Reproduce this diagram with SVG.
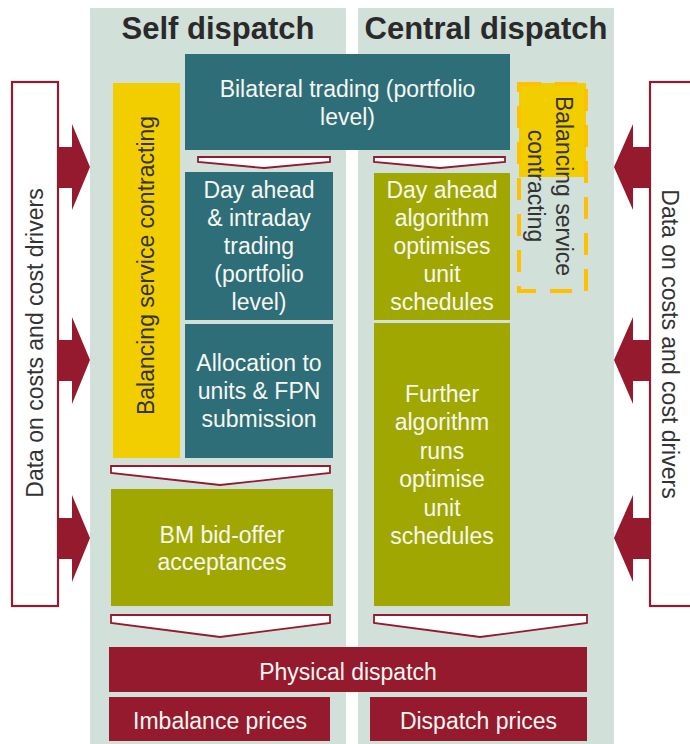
<svg xmlns="http://www.w3.org/2000/svg" width="690" height="744" viewBox="0 0 690 744">
<style>
.panel{fill:#D1E0D8}
.teal{fill:#2E6E78}
.olive{fill:#A0A700}
.red{fill:#951A2E}
.yel{fill:#F2CE00}
.wt{font-family:"Liberation Sans",Arial,sans-serif;font-size:23px;fill:#F7F7F2;text-anchor:middle}
.dt{font-family:"Liberation Sans",Arial,sans-serif;font-size:23px;fill:#333333;text-anchor:middle}
.title{font-family:"Liberation Sans",Arial,sans-serif;font-size:31px;font-weight:bold;fill:#2A2A2A;text-anchor:middle}
.chev{fill:#FFFFFF;stroke:#951A2E;stroke-width:1.8;stroke-linejoin:miter}
.arrow{fill:#951A2E}
.side{fill:#FFFFFF;stroke:#951A2E;stroke-width:2.2}
</style>
<rect width="690" height="744" fill="#FFFFFF"/>
<g id="panels">
<rect class="panel" x="90" y="8" width="256" height="736"/>
<rect class="panel" x="358" y="8" width="256" height="736"/>
<text class="title" x="218" y="39">Self dispatch</text>
<text class="title" x="486" y="39">Central dispatch</text>
</g>
<g id="data-left">
<rect class="side" x="12" y="82" width="46" height="524"/>
<text class="dt" transform="translate(43,343) rotate(-90)">Data on costs and cost drivers</text>
</g>
<g id="data-right">
<rect class="side" x="650" y="82" width="50" height="524"/>
<text class="dt" transform="translate(662,344) rotate(90)">Data on costs and cost drivers</text>
</g>
<g id="bilateral">
<rect class="teal" x="185" y="54" width="325" height="96"/>
<text class="wt" x="347.5" y="97">Bilateral trading (portfolio</text>
<text class="wt" x="347.5" y="125">level)</text>
</g>
<g id="balancing-left">
<rect class="yel" x="113" y="83" width="67" height="375"/>
<text class="dt" transform="translate(154,265.5) rotate(-90)">Balancing service contracting</text>
</g>
<g id="balancing-right">
<rect class="yel" x="519" y="83" width="67" height="94"/>
<rect x="519" y="84" width="67" height="207" fill="none" stroke="#FFC000" stroke-width="4" stroke-dasharray="22 14"/>
<text class="dt" transform="translate(556,186) rotate(90)">Balancing service</text>
<text class="dt" transform="translate(528,186) rotate(90)">contracting</text>
</g>
<g id="dayahead-self">
<rect class="teal" x="185" y="172" width="148" height="148"/>
<text class="wt" x="259" y="198">Day ahead</text>
<text class="wt" x="259" y="226">&amp; intraday</text>
<text class="wt" x="259" y="254">trading</text>
<text class="wt" x="259" y="282">(portfolio</text>
<text class="wt" x="259" y="310">level)</text>
</g>
<g id="allocation">
<rect class="teal" x="185" y="324" width="148" height="134"/>
<text class="wt" x="259" y="371">Allocation to</text>
<text class="wt" x="259" y="399">units &amp; FPN</text>
<text class="wt" x="259" y="427">submission</text>
</g>
<g id="bm">
<rect class="olive" x="111" y="489" width="222" height="117"/>
<text class="wt" x="222" y="543">BM bid-offer</text>
<text class="wt" x="222" y="570">acceptances</text>
</g>
<g id="dayahead-central">
<rect class="olive" x="374" y="173" width="136" height="147"/>
<text class="wt" x="442" y="198">Day ahead</text>
<text class="wt" x="442" y="226">algorithm</text>
<text class="wt" x="442" y="254">optimises</text>
<text class="wt" x="442" y="282">unit</text>
<text class="wt" x="442" y="310">schedules</text>
</g>
<g id="further">
<rect class="olive" x="374" y="323" width="136" height="283"/>
<text class="wt" x="442" y="402">Further</text>
<text class="wt" x="442" y="430">algorithm</text>
<text class="wt" x="442" y="459">runs</text>
<text class="wt" x="442" y="487">optimise</text>
<text class="wt" x="442" y="516">unit</text>
<text class="wt" x="442" y="544">schedules</text>
</g>
<g id="physical">
<rect class="red" x="109" y="647" width="478" height="45"/>
<text class="wt" x="348" y="680">Physical dispatch</text>
</g>
<g id="imbalance">
<rect class="red" x="109" y="697" width="221" height="44"/>
<text class="wt" x="220" y="729">Imbalance prices</text>
</g>
<g id="dispatch-prices">
<rect class="red" x="370" y="697" width="217" height="44"/>
<text class="wt" x="478.5" y="729">Dispatch prices</text>
</g>
<g id="connectors">
<polygon class="chev" points="198,157 330,157 330,162 264,168 198,162"/>
<polygon class="chev" points="374,157 505,157 505,162 440,168 374,162"/>
<polygon class="chev" points="111,466 330,466 330,473 220,485 111,473"/>
<polygon class="chev" points="111,615 330,615 330,623 220,637 111,623"/>
<polygon class="chev" points="374,615 587,615 587,623 480,637 374,623"/>
<polygon class="arrow" points="58,147 72,147 72,124 90,167 72,210 72,188 58,188"/>
<polygon class="arrow" points="58,340 72,340 72,317 90,360 72,404 72,381 58,381"/>
<polygon class="arrow" points="58,518 72,518 72,495 90,538 72,582 72,559 58,559"/>
<polygon class="arrow" points="650,147 633,147 633,124 614,167 633,210 633,188 650,188"/>
<polygon class="arrow" points="650,340 633,340 633,317 614,360 633,404 633,381 650,381"/>
<polygon class="arrow" points="650,518 633,518 633,495 614,538 633,582 633,559 650,559"/>
</g>
</svg>
